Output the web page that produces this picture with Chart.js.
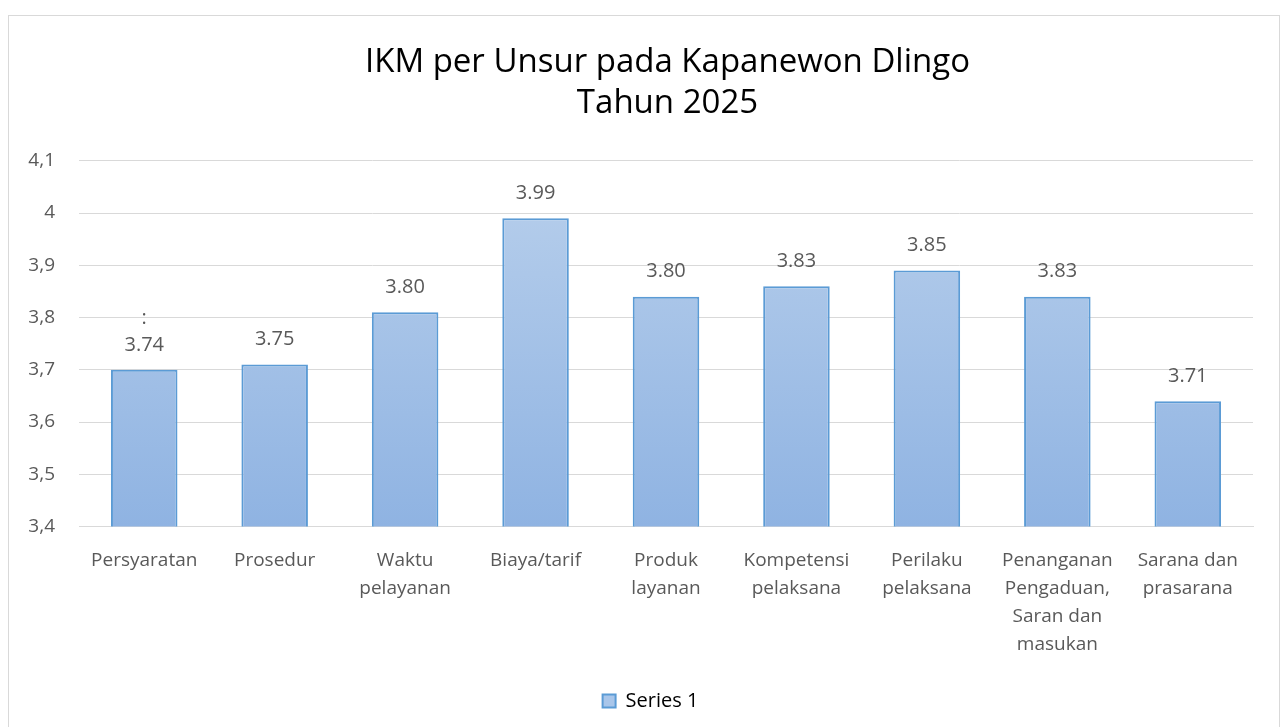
<!DOCTYPE html>
<html>
<head>
<meta charset="utf-8">
<script src="https://cdn.jsdelivr.net/npm/chart.js@4"></script>
<style>
  html, body { margin: 0; padding: 0; background: #fff; }
  #wrap { position: relative; width: 1282px; height: 727px; }
  #frame { position: absolute; left: 8px; top: 15px; width: 1272px; height: 720px; border: 1px solid #d9d9d9; box-sizing: border-box; }
  canvas { position: absolute; left: 0; top: 0; }
</style>
</head>
<body>
<div id="wrap">
  <div id="frame"></div>
  <canvas id="ikmChart" width="1282" height="727"></canvas>
</div>
<script>
// Data
const categories = [
  'Persyaratan', 'Prosedur', ['Waktu', 'pelayanan'], 'Biaya/tarif',
  ['Produk', 'layanan'], ['Kompetensi', 'pelaksana'], ['Perilaku', 'pelaksana'],
  ['Penanganan', 'Pengaduan,', 'Saran dan', 'masukan'], ['Sarana dan', 'prasarana']
];
const barValues = [3.70, 3.71, 3.81, 3.99, 3.84, 3.86, 3.89, 3.84, 3.64];
const valueLabels = [[':', '3.74'], '3.75', '3.80', '3.99', '3.80', '3.83', '3.85', '3.83', '3.71'];
const yTicks = [3.4, 3.5, 3.6, 3.7, 3.8, 3.9, 4.0, 4.1];

const textGrey = '#595959';
const font = 'Open Sans';

// Draw the text labels above each bar
const valueLabelPlugin = {
  id: 'valueLabels',
  afterDatasetsDraw(chart) {
    const ctx = chart.ctx;
    const meta = chart.getDatasetMeta(0);
    ctx.save();
    ctx.fillStyle = textGrey;
    ctx.font = '20px "' + font + '"';
    ctx.textAlign = 'center';
    ctx.textBaseline = 'middle';
    meta.data.forEach((bar, i) => {
      const lines = [].concat(valueLabels[i]).reverse();
      lines.forEach((line, j) => {
        ctx.fillText(line, bar.x, bar.y - 25 - j * 27);
      });
    });
    ctx.restore();
  }
};

// Title and legend sit a bit right of the plot centre in the original
const shiftBoxes = {
  id: 'shiftBoxes',
  afterLayout(chart) {
    if (chart.titleBlock) { chart.titleBlock.left += 41; chart.titleBlock.right += 41; }
    if (chart.legend) { chart.legend.left += 24; chart.legend.right += 24; }
  }
};

const ctx = document.getElementById('ikmChart').getContext('2d');
new Chart(ctx, {
  type: 'bar',
  data: {
    labels: categories,
    datasets: [{
      label: 'Series 1',
      data: barValues,
      backgroundColor: (c) => {
        const area = c.chart.chartArea;
        if (!area) return '#a5c2e8';
        const g = c.chart.ctx.createLinearGradient(0, area.top, 0, area.bottom);
        g.addColorStop(0, '#b9d0ec');
        g.addColorStop(1, '#8fb3e2');
        return g;
      },
      borderColor: '#5b9bd5',
      borderWidth: 2,
      barPercentage: 0.51,
      categoryPercentage: 1
    }]
  },
  options: {
    responsive: false,
    animation: false,
    layout: { padding: { left: 0, right: 29, top: 0, bottom: 6 } },
    scales: {
      x: {
        grid: { display: false, drawTicks: false },
        border: { color: '#d9d9d9', width: 1 },
        ticks: {
          color: textGrey,
          font: { family: font, size: 19, lineHeight: 1.48 },
          padding: 20,
          maxRotation: 0,
          autoSkip: false
        }
      },
      y: {
        min: 3.4,
        max: 4.1,
        afterFit: (scale) => { scale.width = 79; },
        afterBuildTicks: (scale) => { scale.ticks = yTicks.map(v => ({ value: v })); },
        grid: { color: '#d9d9d9', lineWidth: 1, drawTicks: false },
        border: { display: false },
        ticks: {
          color: textGrey,
          font: { family: font, size: 19 },
          padding: 24,
          callback: (v) => String(Math.round(v * 10) / 10).replace('.', ',')
        }
      }
    },
    plugins: {
      title: {
        display: true,
        text: ['IKM per Unsur pada Kapanewon Dlingo', 'Tahun 2025'],
        color: '#000',
        font: { family: font, size: 33, weight: 'normal', lineHeight: 1.24 },
        padding: { top: 42, bottom: 37 }
      },
      legend: {
        position: 'bottom',
        labels: {
          color: textGrey,
          font: { family: font, size: 20 },
          boxWidth: 13,
          boxHeight: 13,
          padding: 12,
          generateLabels: (chart) => [{
            text: 'Series 1',
            fillStyle: '#a9c6ea',
            strokeStyle: '#5b9bd5',
            lineWidth: 2,
            datasetIndex: 0
          }]
        }
      },
      tooltip: { enabled: false }
    }
  },
  plugins: [valueLabelPlugin, shiftBoxes]
});
</script>
</body>
</html>
